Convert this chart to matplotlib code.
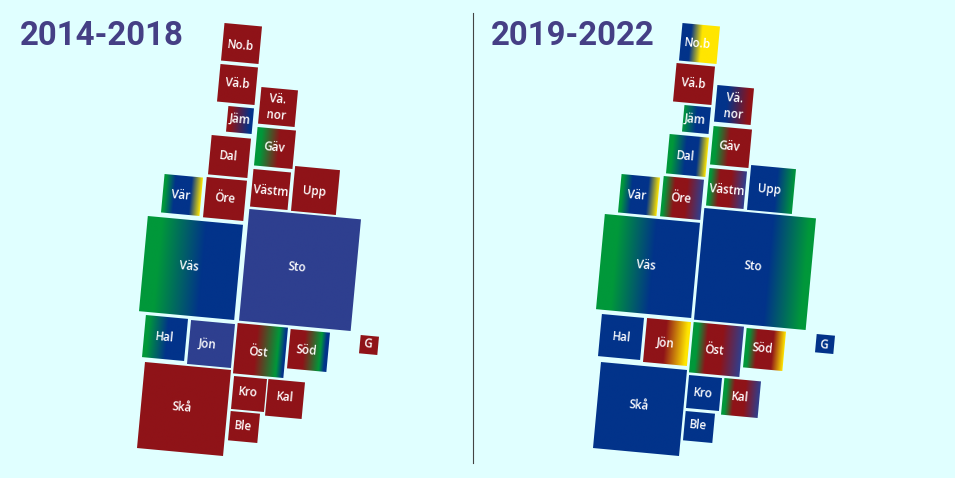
import numpy as np
import matplotlib
matplotlib.use('Agg')
import matplotlib.pyplot as plt
from matplotlib.colors import LinearSegmentedColormap
from matplotlib.transforms import Affine2D

RED = '#8f1318'
BLUE = '#02338a'
PURPLE = '#2e3f8f'
GREEN = '#00983a'
YELLOW = '#ffe600'
BG = '#e0ffff'
TITLE_COLOR = '#453f85'

TILT = 5.3

labels = ['No.b', 'Vä.b', 'Jäm', 'Vä.\nnor', 'Gäv', 'Dal', 'Öre', 'Vär', 'Västm', 'Upp', 'Väs',
          'Sto', 'Hal', 'Jön', 'Öst', 'Söd', 'G', 'Skå', 'Kro', 'Kal', 'Ble']

# centre x, centre y, side of each county in pixels
left_x = [241.5, 237.4, 239.7, 277.4, 274.7, 229.7, 225.0, 181.7, 270.3, 315.3, 191.3,
          299.3, 165.0, 210.7, 260.7, 308.3, 369.0, 183.3, 248.3, 285.0, 243.3]
left_y = [43.7, 84.7, 120.3, 107.6, 148.3, 156.3, 199.0, 195.3, 189.7, 191.0, 267.7,
          270.3, 338.0, 343.7, 351.0, 350.7, 345.7, 409.0, 394.0, 399.3, 427.7]
left_side = [37, 37.5, 25, 36.5, 38, 39, 40, 38, 37.5, 44.5, 95.5,
             111.5, 42, 44, 50, 39.5, 18, 85.5, 32.5, 36.5, 29]

right_x = [698.7, 694.0, 696.3, 733.3, 730.7, 687.0, 681.7, 638.7, 726.3, 771.0, 648.0,
           755.0, 621.3, 667.0, 716.7, 764.7, 824.3, 639.3, 704.0, 741.0, 699.0]
right_y = [43.7, 84.0, 120.3, 105.7, 146.7, 155.3, 198.7, 195.0, 188.3, 189.7, 266.7,
           269.7, 337.3, 342.7, 350.0, 349.7, 344.7, 409.0, 393.3, 398.7, 427.0]
right_side = [37, 38, 26, 36, 38.5, 39, 40, 38, 37.5, 44.5, 95,
              111.5, 42, 43.5, 50, 39.5, 18, 85.5, 32.5, 36, 29]

# where the labels sit, they are not always in the middle of the county
left_label_x = [241.0, 237.0, 239.7, 277.3, 274.0, 228.7, 224.7, 180.7, 271.0, 314.7, 189.0,
                297.0, 165.0, 207.7, 258.7, 306.0, 368.3, 181.7, 248.0, 284.7, 243.3]
left_label_y = [45.3, 84.0, 119.7, 107.7, 148.0, 156.3, 198.7, 195.3, 191.3, 191.7, 266.3,
                267.0, 337.5, 344.0, 352.7, 350.3, 344.3, 407.7, 392.7, 397.7, 426.7]
right_label_x = [697.7, 693.7, 695.3, 733.7, 729.7, 685.0, 681.3, 637.0, 726.7, 769.3, 646.0,
                 752.7, 621.7, 665.3, 714.3, 762.7, 823.7, 638.7, 703.3, 740.3, 698.3]
right_label_y = [44.0, 83.7, 119.3, 106.7, 146.3, 156.0, 198.3, 195.0, 189.7, 189.7, 265.0,
                 266.7, 337.0, 343.3, 350.0, 348.7, 344.7, 405.7, 393.0, 397.3, 425.0]

# colour bands across each county, left to right
left_bands = [
    [(0, RED), (1, RED)],
    [(0, RED), (1, RED)],
    [(0, RED), (0.15, RED), (0.9, BLUE), (1, BLUE)],
    [(0, RED), (1, RED)],
    [(0, GREEN), (0.12, GREEN), (0.6, RED), (1, RED)],
    [(0, RED), (1, RED)],
    [(0, RED), (1, RED)],
    [(0, GREEN), (0.05, GREEN), (0.3, BLUE), (0.72, BLUE), (1, YELLOW)],
    [(0, RED), (1, RED)],
    [(0, RED), (1, RED)],
    [(0, GREEN), (0.15, GREEN), (0.62, BLUE), (1, BLUE)],
    [(0, PURPLE), (1, PURPLE)],
    [(0, GREEN), (0.08, GREEN), (0.55, BLUE), (1, BLUE)],
    [(0, PURPLE), (1, PURPLE)],
    [(0, RED), (0.4, RED), (0.84, GREEN), (0.97, BLUE), (1, BLUE)],
    [(0, RED), (0.38, RED), (0.8, GREEN), (0.93, BLUE), (1, BLUE)],
    [(0, RED), (1, RED)],
    [(0, RED), (1, RED)],
    [(0, RED), (1, RED)],
    [(0, RED), (1, RED)],
    [(0, RED), (1, RED)],
]
right_bands = [
    [(0, BLUE), (0.25, BLUE), (0.55, YELLOW), (1, YELLOW)],
    [(0, RED), (1, RED)],
    [(0, GREEN), (0.5, BLUE), (1, BLUE)],
    [(0, BLUE), (0.3, BLUE), (0.9, RED), (1, RED)],
    [(0, GREEN), (0.1, GREEN), (0.45, RED), (1, RED)],
    [(0, GREEN), (0.1, GREEN), (0.45, BLUE), (0.75, BLUE), (1, YELLOW)],
    [(0, GREEN), (0.05, GREEN), (0.3, RED), (0.6, RED), (1, PURPLE)],
    [(0, GREEN), (0.05, GREEN), (0.3, BLUE), (0.72, BLUE), (1, YELLOW)],
    [(0, GREEN), (0.05, GREEN), (0.3, RED), (0.6, RED), (1, PURPLE)],
    [(0, BLUE), (0.6, BLUE), (1, GREEN)],
    [(0, GREEN), (0.15, GREEN), (0.55, BLUE), (1, BLUE)],
    [(0, BLUE), (0.62, BLUE), (0.95, GREEN), (1, GREEN)],
    [(0, BLUE), (1, BLUE)],
    [(0, RED), (0.45, RED), (0.95, YELLOW), (1, YELLOW)],
    [(0, GREEN), (0.1, GREEN), (0.3, RED), (0.6, RED), (1, PURPLE)],
    [(0, GREEN), (0.08, GREEN), (0.3, RED), (0.7, RED), (1, YELLOW)],
    [(0, BLUE), (1, BLUE)],
    [(0, BLUE), (1, BLUE)],
    [(0, BLUE), (1, BLUE)],
    [(0, GREEN), (0.08, GREEN), (0.3, RED), (0.6, RED), (1, PURPLE)],
    [(0, BLUE), (1, BLUE)],
]


def draw_panel(ax, xs, ys, sides, bands, label_xs, label_ys):
    ramp = np.linspace(0, 1, 256)[None, :].repeat(2, axis=0)
    for i in range(len(labels)):
        half = sides[i] / 2
        cmap = LinearSegmentedColormap.from_list('band', bands[i])
        place = Affine2D().rotate_deg(TILT).translate(xs[i], ys[i]) + ax.transData
        ax.imshow(ramp, cmap=cmap, vmin=0, vmax=1, extent=(-half, half, half, -half),
                  transform=place, interpolation='bilinear', aspect='auto', zorder=2)
        ax.text(label_xs[i], label_ys[i], labels[i], color='white', fontsize=8.4, family='Open Sans',
                fontweight='semibold', ha='center', va='center', rotation=-TILT,
                rotation_mode='anchor', linespacing=1.35, zorder=3)


fig = plt.figure(figsize=(9.55, 4.78), dpi=100, facecolor=BG)
ax = fig.add_axes([0, 0, 1, 1])
ax.set_facecolor(BG)

draw_panel(ax, left_x, left_y, left_side, left_bands, left_label_x, left_label_y)
draw_panel(ax, right_x, right_y, right_side, right_bands, right_label_x, right_label_y)

ax.set_xlim(0, 955)
ax.set_ylim(478, 0)
ax.axis('off')

ax.plot([472.5, 472.5], [13, 463], color='#444444', lw=0.8)
ax.text(19.5, 36, '2014-2018', color=TITLE_COLOR, fontsize=23.8, family='Roboto', fontweight='bold', va='center')
ax.text(490.5, 36, '2019-2022', color=TITLE_COLOR, fontsize=23.8, family='Roboto', fontweight='bold', va='center')

plt.savefig('out.png', dpi=100, facecolor=BG)
